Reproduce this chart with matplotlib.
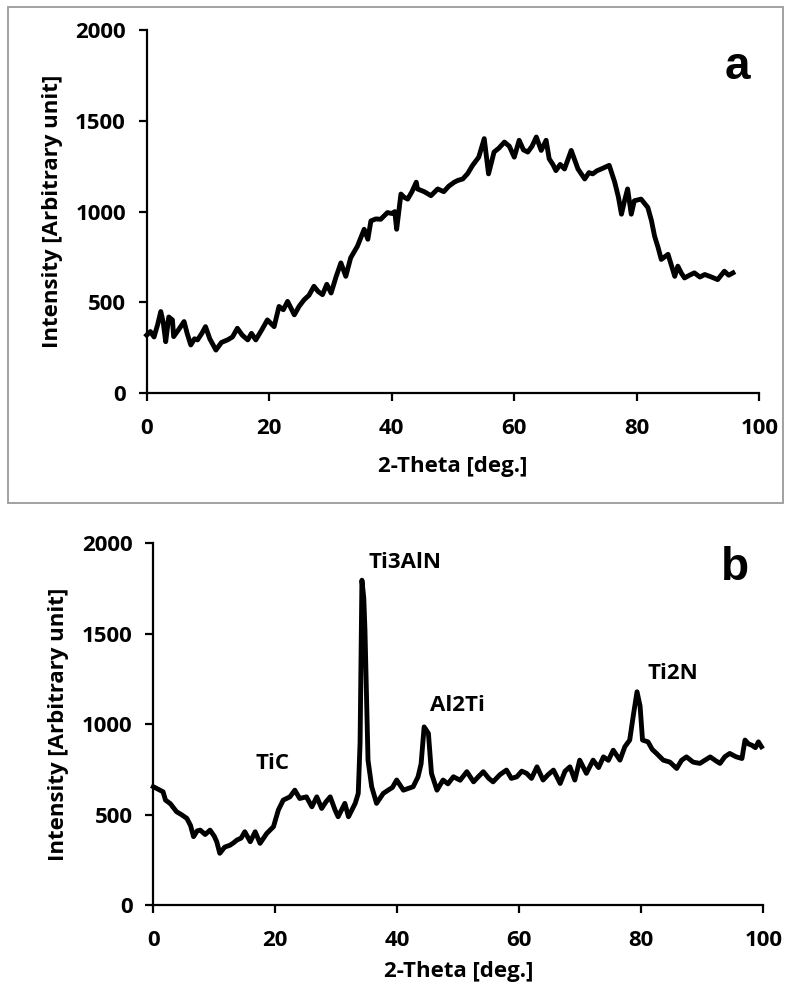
import matplotlib
matplotlib.use("Agg")
import matplotlib.pyplot as plt
from matplotlib.patches import Rectangle

# ---------------- data ----------------
top_x = [0, 0.6, 1.2, 1.8, 2.3, 2.7, 3.1, 3.6, 4.2, 4.4, 5.2, 6.1, 6.6, 7.2, 7.8, 8.3, 9.0, 9.6,
         10.3, 11.3, 12.2, 13.2, 14.0, 14.8, 15.6, 16.5, 17.1, 17.8, 18.8, 19.7, 20.8, 21.6, 22.3,
         23.0, 24.1, 24.9, 25.7, 26.5, 27.3, 28.0, 28.7, 29.4, 30.1, 30.9, 31.7, 32.5, 33.3, 34.4,
         35.0, 35.5, 36.1, 36.6, 37.4, 38.2, 39.3, 40.0, 40.5, 40.8, 41.5, 42.0, 42.6, 43.3, 44.0,
         44.2, 45.3, 46.4, 47.5, 48.5, 49.3, 50.2, 50.8, 51.6, 52.4, 53.2, 54.2, 55.1, 55.8, 56.7,
         57.5, 58.4, 59.2, 60.0, 60.8, 61.5, 62.2, 62.9, 63.6, 64.4, 65.2, 65.7, 66.3, 66.8, 67.5,
         68.2, 69.3, 70.4, 71.5, 72.2, 72.8, 73.5, 74.2, 75.5, 76.4, 77.0, 77.5, 78.0, 78.5, 79.1,
         79.6, 80.7, 81.8, 82.4, 82.9, 83.5, 84.0, 85.1, 85.7, 86.2, 86.7, 87.3, 87.8, 88.6, 89.4,
         90.3, 91.1, 92.2, 93.2, 94.3, 95.0, 95.7]
top_y = [320, 340, 310, 380, 450, 390, 284, 420, 404, 312, 350, 395, 330, 266, 300, 294, 330, 367,
         300, 238, 280, 294, 310, 358, 320, 294, 330, 294, 350, 404, 367, 478, 460,
         506, 432, 480, 515, 540, 589, 560, 543, 600, 552, 640, 718, 644, 746, 810,
         860, 903, 848, 949, 960, 958, 995, 990, 1000, 903, 1097, 1080, 1069, 1110, 1162,
         1125, 1110, 1088, 1125, 1110, 1140, 1162, 1172, 1180, 1210, 1255, 1300, 1402, 1208, 1328,
         1350, 1383, 1360, 1300, 1393, 1340, 1328, 1360, 1411, 1337, 1393, 1291, 1260, 1226, 1260,
         1235, 1337, 1235, 1180, 1215, 1208, 1225, 1235, 1255, 1162, 1080, 986, 1060, 1125, 986,
         1060, 1069, 1023, 950, 866, 800, 737, 765, 700, 644, 700, 660, 635, 650, 663,
         640, 654, 640, 626, 672, 650, 663]

bot_x = [0, 0.8, 1.6, 2.0, 2.8, 3.8, 4.6, 5.5, 6.1, 6.6, 7.2, 7.7, 8.5, 9.3, 10.0, 10.4, 10.9,
         11.7, 12.6, 13.2, 13.7, 14.4, 15.0, 15.9, 16.7, 17.5, 18.6, 19.7, 20.5, 21.3, 22.4, 23.2,
         24.0, 25.1, 26.0, 26.8, 27.6, 28.3, 29.0, 29.8, 30.3, 31.4, 32.0, 33.1, 33.6, 33.9, 34.2,
         34.5, 34.7, 35.2, 35.8, 36.6, 37.7, 38.5, 39.2, 39.9, 41.0, 42.6, 43.4, 43.9, 44.4, 45.1,
         45.6, 46.5, 47.5, 48.3, 49.2, 50.3, 51.4, 52.5, 53.3, 54.1, 55.0, 55.7, 56.8, 57.9, 58.7,
         59.6, 60.4, 61.2, 62.0, 62.9, 63.9, 64.7, 65.6, 66.7, 67.5, 68.3, 69.1, 69.9, 71.0, 72.1,
         73.0, 73.8, 74.6, 75.4, 76.5, 77.3, 78.1, 78.7, 79.3, 79.8, 80.2, 81.1, 81.8, 82.5, 83.6,
         84.7, 85.8, 86.6, 87.4, 88.5, 89.6, 90.4, 91.3, 92.1, 92.9, 93.7, 94.5, 95.5, 96.5, 97.0,
         97.6, 98.1, 98.7, 99.2, 99.7]
bot_y = [654, 640, 626, 580, 560, 516, 500, 479, 440, 378, 410, 414, 390, 414, 380, 350, 286,
         320, 331, 345, 359, 370, 405, 350, 405, 341, 396, 433, 525, 580, 598, 635,
         589, 598, 543, 598, 534, 570, 598, 525, 488, 562, 488, 562, 617, 900, 1796,
         1700, 1519, 801, 654, 562, 617, 635, 650, 691, 635, 654, 709, 780, 985, 949,
         728, 635, 691, 670, 709, 690, 737, 681, 710, 737, 700, 681, 720, 746, 700,
         709, 740, 728, 700, 764, 691, 720, 746, 672, 740, 764, 691, 801, 728, 801,
         760, 819, 800, 856, 801, 875, 912, 1050, 1179, 1100, 912, 902, 860, 838, 801,
         790, 755, 800, 819, 790, 783, 800, 819, 800, 783, 820, 838, 820, 810, 912,
         890, 884, 870, 902, 875]

x_ticks = [0, 20, 40, 60, 80, 100]
y_ticks = [0, 500, 1000, 1500, 2000]
x_label = "2-Theta [deg.]"
y_label = "Intensity [Arbitrary unit]"
peak_labels = ["TiC", "Ti3AlN", "Al2Ti", "Ti2N"]
peak_label_x = [19.6, 41.3, 49.9, 85.2]
peak_label_y = [783, 1895, 1105, 1280]

# ---------------- style ----------------
FONT = ["Open Sans", "DejaVu Sans"]
plt.rcParams["font.family"] = FONT
plt.rcParams["font.weight"] = "bold"
FS = 16

W, H = 787, 992
fig = plt.figure(figsize=(W / 100, H / 100), dpi=100)
fig.patch.set_facecolor("white")

# border around top panel
fig.patches.append(Rectangle((8 / W, 1 - 503 / H), (783 - 8) / W, (503 - 7) / H,
                             transform=fig.transFigure, fill=False,
                             edgecolor="#9a9a9a", linewidth=1.3))

ax1 = fig.add_axes([146.7 / W, 1 - 393.3 / H, (759.3 - 146.7) / W, (393.3 - 30) / H])
ax2 = fig.add_axes([153.3 / W, 1 - 905 / H, (763.3 - 153.3) / W, (905 - 543.3) / H])


def style(ax, xlabelpad):
    ax.set_xlim(0, 100)
    ax.set_ylim(0, 2000)
    ax.set_xticks(x_ticks)
    ax.set_yticks(y_ticks)
    for s in ["top", "right"]:
        ax.spines[s].set_visible(False)
    for s in ["left", "bottom"]:
        ax.spines[s].set_linewidth(1.6)
        ax.spines[s].set_color("black")
    ax.tick_params(axis="both", direction="out", length=6, width=1.6,
                   labelsize=FS, colors="black")
    ax.tick_params(axis="y", pad=9)
    ax.tick_params(axis="x", pad=12)
    for lab in ax.get_xticklabels() + ax.get_yticklabels():
        lab.set_fontweight("bold")
    ax.set_xlabel(x_label, fontsize=FS, fontweight="bold", labelpad=xlabelpad)
    ax.set_ylabel(y_label, fontsize=FS, fontweight="bold", labelpad=9)


style(ax1, 12)
style(ax2, 7)

ax1.plot(top_x, top_y, color="black", linewidth=3.5, solid_joinstyle="round", clip_on=False)
ax2.plot(bot_x, bot_y, color="black", linewidth=3.5, solid_joinstyle="round", clip_on=False)

ax1.text(96.5, 1799, "a", fontsize=33, fontweight="bold", ha="center", va="center",
         family=["Liberation Sans", "DejaVu Sans"])
ax2.text(95.3, 1862, "b", fontsize=33, fontweight="bold", ha="center", va="center",
         family=["Liberation Sans", "DejaVu Sans"])

for t, px, py in zip(peak_labels, peak_label_x, peak_label_y):
    ax2.text(px, py, t, fontsize=FS, fontweight="bold", ha="center", va="center")

fig.savefig("out.png", dpi=100, facecolor="white")
